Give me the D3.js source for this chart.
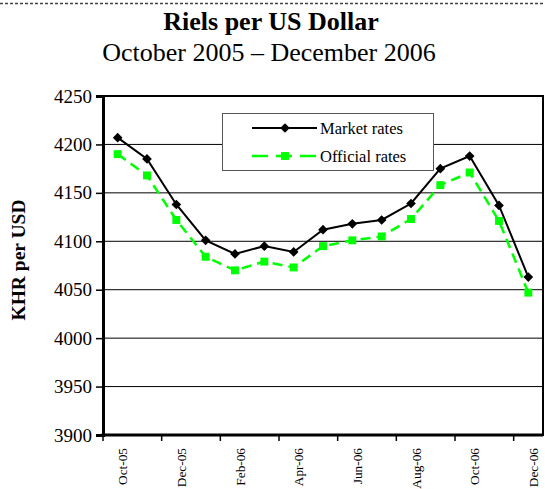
<!DOCTYPE html>
<html>
<head>
<meta charset="utf-8">
<script src="https://cdn.jsdelivr.net/npm/d3@7"></script>
<style>
  body { margin: 0; background: #fff; }
  svg { display: block; font-family: "Liberation Serif", "Times New Roman", serif; }
</style>
</head>
<body>
<div id="chart"></div>
<script>
// Données
const months = ["Oct-05", "Nov-05", "Dec-05", "Jan-06", "Feb-06", "Mar-06", "Apr-06",
  "May-06", "Jun-06", "Jul-06", "Aug-06", "Sep-06", "Oct-06", "Nov-06", "Dec-06"];
const marketRates = [4207, 4185, 4138, 4101, 4087, 4095, 4089, 4112, 4118, 4122, 4139, 4175, 4188, 4137, 4063];
const officialRates = [4190, 4168, 4122, 4084, 4070, 4079, 4073, 4095, 4101, 4105, 4123, 4158, 4171, 4121, 4047];
const yTicks = [3900, 3950, 4000, 4050, 4100, 4150, 4200, 4250];

const svgWidth = 545;
const svgHeight = 489;
const margin = { top: 96, right: 2, bottom: 54, left: 103 };
const width = svgWidth - margin.left - margin.right;
const height = svgHeight - margin.top - margin.bottom;

const svg = d3.select("#chart")
  .append("svg")
  .attr("width", svgWidth)
  .attr("height", svgHeight);

// bordure pointillée en haut
svg.append("line")
  .attr("x1", 0).attr("x2", svgWidth)
  .attr("y1", 3.5).attr("y2", 3.5)
  .attr("stroke", "#444")
  .attr("stroke-width", 1.5)
  .attr("stroke-dasharray", "3,2");

// Titres
svg.append("text")
  .attr("x", 271).attr("y", 30)
  .attr("text-anchor", "middle")
  .attr("font-size", 26)
  .attr("font-weight", "bold")
  .text("Riels per US Dollar");

svg.append("text")
  .attr("x", 269).attr("y", 61)
  .attr("text-anchor", "middle")
  .attr("font-size", 26)
  .text("October 2005 \u2013 December 2006");

const g = svg.append("g")
  .attr("transform", `translate(${margin.left},${margin.top})`);

// Échelles
const x = d3.scaleBand()
  .domain(months)
  .range([0, width])
  .padding(0);

const y = d3.scaleLinear()
  .domain([3900, 4250])
  .range([height, 0]);

// Lignes de grille
g.selectAll(".grid")
  .data(yTicks)
  .enter()
  .append("line")
  .attr("class", "grid")
  .attr("x1", 0).attr("x2", width)
  .attr("y1", d => y(d)).attr("y2", d => y(d))
  .attr("stroke", "#000")
  .attr("stroke-width", 1);

// cadre de la zone de tracé
g.append("rect")
  .attr("x", 0).attr("y", 0)
  .attr("width", width).attr("height", height)
  .attr("fill", "none")
  .attr("stroke", "#000")
  .attr("stroke-width", 2);

// Axe Y
const yAxis = g.append("g")
  .call(d3.axisLeft(y).tickValues(yTicks).tickFormat(d3.format("d")).tickSize(7).tickPadding(4));
yAxis.attr("font-family", null);
yAxis.select(".domain").attr("stroke-width", 3);
yAxis.selectAll(".tick line").attr("stroke-width", 1.5);
yAxis.selectAll(".tick text")
  .attr("font-family", "Liberation Serif")
  .attr("font-size", 19)
  .attr("fill", "#000");

// Axe X
g.append("line")
  .attr("x1", -1.5).attr("x2", width)
  .attr("y1", height).attr("y2", height)
  .attr("stroke", "#000")
  .attr("stroke-width", 3);

const labelled = months.filter((d, i) => i % 2 === 0);

g.selectAll(".xtick")
  .data(labelled)
  .enter()
  .append("line")
  .attr("class", "xtick")
  .attr("x1", d => x(d)).attr("x2", d => x(d))
  .attr("y1", height).attr("y2", height + 6)
  .attr("stroke", "#000")
  .attr("stroke-width", 1.5);

g.selectAll(".xlabel")
  .data(labelled)
  .enter()
  .append("text")
  .attr("class", "xlabel")
  .attr("transform", d => `translate(${x(d) + x.bandwidth() / 2 + 9.5},${height + 13}) rotate(-90)`)
  .attr("text-anchor", "end")
  .attr("font-size", 13.3)
  .text(d => d);

// Titre de l'axe Y
svg.append("text")
  .attr("transform", "translate(25,260) rotate(-90)")
  .attr("text-anchor", "middle")
  .attr("font-size", 19.5)
  .attr("font-weight", "bold")
  .text("KHR per USD");

// Séries
const series = [
  { name: "Market rates", values: marketRates, color: "#000", dash: null, marker: "diamond" },
  { name: "Official rates", values: officialRates, color: "#00ff00", dash: "10,6", marker: "square" }
];

const line = d3.line()
  .x((d, i) => x(months[i]) + x.bandwidth() / 2)
  .y(d => y(d));

const diamond = d3.symbol().type(d3.symbolDiamond2).size(60);
const square = d3.symbol().type(d3.symbolSquare2).size(80);

function markerPath(s) {
  return s.marker === "diamond" ? diamond() : square();
}

// dessiner la série officielle d'abord, le marché par-dessus
[series[1], series[0]].forEach(s => {
  g.append("path")
    .datum(s.values)
    .attr("fill", "none")
    .attr("stroke", s.color)
    .attr("stroke-width", s.marker === "diamond" ? 2 : 2.5)
    .attr("stroke-dasharray", s.dash)
    .attr("d", line);

  g.selectAll(".m-" + s.marker)
    .data(s.values)
    .enter()
    .append("path")
    .attr("class", "m-" + s.marker)
    .attr("transform", (d, i) => `translate(${x(months[i]) + x.bandwidth() / 2},${y(d)})`)
    .attr("d", markerPath(s))
    .attr("fill", s.color);
});

// Légende
const legend = svg.append("g");
legend.append("rect")
  .attr("x", 222.5).attr("y", 113.5)
  .attr("width", 211).attr("height", 57)
  .attr("fill", "#fff")
  .attr("stroke", "#555")
  .attr("stroke-width", 1);

series.forEach((s, i) => {
  const ly = 128 + i * 28;
  legend.append("line")
    .attr("x1", 252).attr("x2", 317)
    .attr("y1", ly).attr("y2", ly)
    .attr("stroke", s.color)
    .attr("stroke-width", s.marker === "diamond" ? 2 : 2.5)
    .attr("stroke-dasharray", s.dash ? "16,8" : null);
  legend.append("path")
    .attr("transform", `translate(285,${ly})`)
    .attr("d", markerPath(s))
    .attr("fill", s.color);
  legend.append("text")
    .attr("x", 320).attr("y", ly + 6)
    .attr("font-size", 16.5)
    .text(s.name);
});
</script>
</body>
</html>
